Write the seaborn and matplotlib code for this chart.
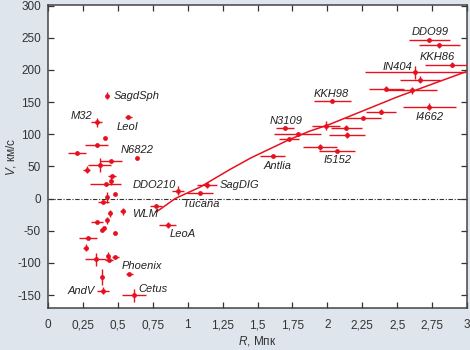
import numpy as np
import pandas as pd
import matplotlib
matplotlib.use("Agg")
import matplotlib.pyplot as plt
import seaborn as sns

# Расстояния (Мпк), скорости (км/с) и их ошибки
r = [0.426, 0.35, 0.576, 0.41, 0.35, 0.207, 0.636, 0.45, 0.369, 0.278,
     0.459, 0.45, 0.413, 0.48, 0.42, 0.93, 0.397, 0.445, 0.535, 0.421,
     0.35, 0.39, 0.40, 0.48, 0.286, 0.271, 0.343, 0.43, 0.438, 0.483,
     0.583, 0.386, 0.397, 0.616, 0.857, 0.773, 1.088, 1.14, 1.607, 1.695,
     1.786, 1.726, 1.993, 2.136, 2.14, 1.945, 2.07, 2.036, 2.254, 2.383,
     2.422, 2.602, 2.73, 2.63, 2.664, 2.89, 2.73, 2.8]
v = [160, 119, 127, 94, 84, 71, 63, 58, 52, 45,
     35, 27, 22, 7, 2, 12, -6, -23, -20, -34,
     -37, -49, -46, -53, -61, -76, -94, -89, -95, -91,
     -117, -122, -143, -150, -41, -11, 8.5, 21.5, 66, 109,
     100, 93, 113, 110, 99, 80, 74, 151, 125, 135,
     171, 168, 143, 196, 185, 208, 246, 238]
r_err = [0, 0.04, 0.025, 0, 0.083, 0.063, 0, 0.08, 0.08, 0.024,
         0.03, 0, 0.11, 0, 0, 0.045, 0.04, 0, 0.02, 0,
         0.043, 0, 0, 0, 0.062, 0.017, 0.075, 0, 0.03, 0.024,
         0.024, 0, 0.043, 0.087, 0.062, 0.042, 0.095, 0.07, 0.09, 0.064,
         0.17, 0.074, 0.1, 0.113, 0.126, 0.12, 0.13, 0.133, 0.127, 0.11,
         0.124, 0.18, 0.19, 0.36, 0.145, 0.195, 0.146, 0.146]
v_err = [5, 7, 0, 0, 0, 0, 0, 0, 11, 5,
         0, 6, 0, 0, 9, 7, 0, 5, 6, 6,
         0, 0, 0, 0, 0, 6, 10, 6, 0, 0,
         0, 12, 5, 10, 4, 0, 0, 5, 0, 0,
         3, 0, 7, 4, 5, 5, 0, 0, 0, 4,
         4, 5, 5, 10, 5, 4, 0, 4]

# Хаббловский поток
line_r = [0.77, 0.80, 0.91, 1.09, 1.30, 1.45, 1.73, 1.875, 2.0, 2.25, 2.5, 2.75, 2.99]
line_v = [-21, -17, 0, 18, 45, 63, 92, 105, 114, 136, 158, 178, 197]

# Подписи галактик
names = ["SagdSph", "M32", "LeoI", "N6822", "DDO210", "WLM", "Tucana", "LeoA",
         "Phoenix", "AndV", "Cetus", "SagDIG", "Antlia", "N3109", "KKH98",
         "I5152", "IN404", "KKH86", "DDO99", "I4662"]
name_r = [0.47, 0.16, 0.493, 0.523, 0.604, 0.60, 0.964, 0.874,
          0.524, 0.143, 0.647, 1.23, 1.54, 1.583, 1.904,
          1.974, 2.397, 2.66, 2.60, 2.63]
name_v = [160, 129, 111, 76, 21, -24, -8, -55,
          -105, -143, -140, 21, 51, 120, 162,
          60, 204, 220, 259, 127]

x_ticks = [0, 0.25, 0.5, 0.75, 1, 1.25, 1.5, 1.75, 2, 2.25, 2.5, 2.75, 3]
y_ticks = [-150, -100, -50, 0, 50, 100, 150, 200, 250, 300]

red = "#e8101e"
bg = "#dfe5ec"

df = pd.DataFrame({"r": r, "v": v})
line_df = pd.DataFrame({"r": line_r, "v": line_v})

sns.set_style("ticks")
plt.rcParams["font.family"] = ["Liberation Sans", "DejaVu Sans"]
plt.rcParams["mathtext.fontset"] = "custom"
plt.rcParams["mathtext.it"] = "Liberation Sans:italic"
plt.rcParams["mathtext.rm"] = "Liberation Sans"

fig, ax = plt.subplots(figsize=(4.7, 3.5), dpi=100)
fig.patch.set_facecolor(bg)
ax.set_facecolor("white")
fig.subplots_adjust(left=0.102, right=0.994, top=0.986, bottom=0.12)

# нулевая линия
ax.axhline(0, color="#333333", linewidth=0.8, linestyle=(0, (4, 1.5, 1, 1.5)), zorder=1)

sns.lineplot(data=line_df, x="r", y="v", color=red, linewidth=1.1, sort=False, ax=ax, zorder=2)

xe = np.array(r_err)
ye = np.array(v_err)
ax.errorbar(r, v, xerr=np.where(xe > 0, xe, np.nan), fmt="none", ecolor=red,
            elinewidth=1.0, capsize=0, zorder=3)
ax.errorbar(r, v, yerr=np.where(ye > 0, ye, np.nan), fmt="none", ecolor=red,
            elinewidth=1.0, capsize=0, zorder=3)
sns.scatterplot(data=df, x="r", y="v", color=red, s=12, linewidth=0, ax=ax, zorder=4)

for name, nx, ny in zip(names, name_r, name_v):
    ax.text(nx, ny, name, fontsize=8, style="italic", color="#222222",
            ha="left", va="center")

ax.set_xlim(0, 3)
ax.set_ylim(-170, 301)
ax.set_xticks(x_ticks)
ax.set_xticklabels([f"{t:g}".replace(".", ",") for t in x_ticks])
ax.set_yticks(y_ticks)
ax.set_yticklabels([str(t) for t in y_ticks])
ax.tick_params(direction="in", length=4, width=0.9, labelsize=8.5, colors="#333333",
               top=True, right=True, labeltop=False, labelright=False)
ax.tick_params(axis="x", pad=8)
ax.tick_params(axis="y", pad=5)
for s in ax.spines.values():
    s.set_color("#444444")
    s.set_linewidth(1.1)

ax.set_xlabel(r"$\mathit{R}$, Мпк", fontsize=8.5, color="#333333")
ax.set_ylabel(r"$\mathit{V}$, км/с", fontsize=8.5, color="#333333")
ax.xaxis.set_label_coords(0.5, -0.085)
ax.yaxis.set_label_coords(-0.072, 0.5)

fig.savefig("out.png", dpi=100, facecolor=bg)
